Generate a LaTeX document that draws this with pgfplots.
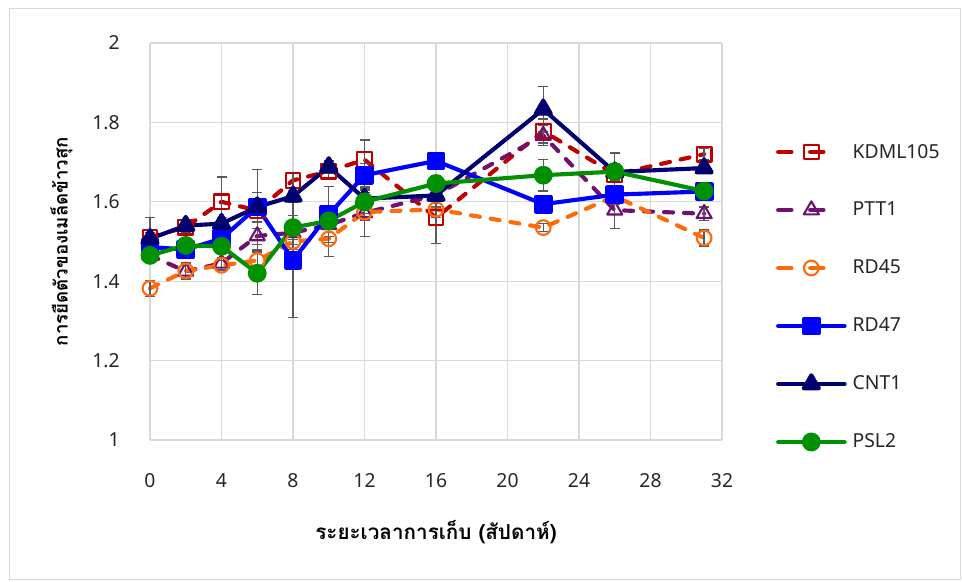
\documentclass[border=0pt]{standalone}
\usepackage{fontspec}
\setmainfont{Noto Sans}
\newfontfamily\thaifont[Script=Thai]{Loma}
\usepackage{pgfplots}
\usepackage{pgfplotstable}
\pgfplotsset{compat=1.18}
\definecolor{cKD}{HTML}{C00000}
\definecolor{cPT}{HTML}{70106F}
\definecolor{cRa}{HTML}{FF6A0A}
\definecolor{cRb}{HTML}{0000FF}
\definecolor{cCN}{HTML}{00006E}
\definecolor{cPS}{HTML}{009000}
\definecolor{errc}{HTML}{5A5A5A}
\definecolor{gridc}{HTML}{D9D9D9}

\pgfplotstableread{
x y e
0 1.511 0.050
2 1.536 0.015
4 1.600 0.062
6 1.578 0.045
8 1.654 0.020
10 1.677 0.020
12 1.706 0.050
16 1.560 0.065
22 1.778 0.030
26 1.669 0.054
31 1.720 0.015
}\kdml
\pgfplotstableread{
x y e
0 1.465 0.015
2 1.425 0.020
4 1.445 0.015
6 1.514 0.035
8 1.522 0.030
10 1.542 0.030
12 1.572 0.060
16 1.617 0.030
22 1.767 0.025
26 1.579 0.046
31 1.570 0.017
}\ptt
\pgfplotstableread{
x y e
0 1.382 0.020
2 1.426 0.020
4 1.440 0.012
6 1.452 0.020
8 1.500 0.020
10 1.507 0.045
12 1.574 0.020
16 1.581 0.020
22 1.535 0.010
26 1.614 0.020
31 1.509 0.020
}\rdff
\pgfplotstableread{
x y e
0 1.486 0.015
2 1.480 0.015
4 1.507 0.020
6 1.587 0.095
8 1.453 0.145
10 1.568 0.070
12 1.667 0.030
16 1.703 0.010
22 1.594 0.010
26 1.618 0.020
31 1.626 0.010
}\rdfs
\pgfplotstableread{
x y e
0 1.507 0.015
2 1.540 0.010
4 1.545 0.015
6 1.587 0.020
8 1.614 0.015
10 1.688 0.015
12 1.608 0.015
16 1.616 0.020
22 1.833 0.057
26 1.675 0.020
31 1.685 0.010
}\cnt
\pgfplotstableread{
x y e
0 1.465 0.015
2 1.490 0.015
4 1.488 0.015
6 1.420 0.053
8 1.535 0.030
10 1.552 0.030
12 1.600 0.030
16 1.646 0.020
22 1.667 0.040
26 1.676 0.015
31 1.627 0.010
}\psl

\pgfplotsset{
  eb/.style={error bars/.cd, y dir=both, y explicit,
    error bar style={errc, line width=1.1pt, solid},
    error mark options={errc, rotate=90, mark size=3.75pt, line width=1.1pt, solid}},
  dashleg/.style={legend image code/.code={
    \pgfpathrectangle{\pgfpoint{0pt}{-21.75pt}}{\pgfpoint{53pt}{43.5pt}}\pgfusepath{use as bounding box}
    \draw[##1, mark repeat=2, mark phase=2, dash pattern=on 10pt off 14pt on 10pt off 40pt]
      plot coordinates {(1.6pt,0pt) (26.5pt,0pt) (53pt,0pt)};}},
  solidleg/.style={legend image code/.code={
    \pgfpathrectangle{\pgfpoint{0pt}{-21.75pt}}{\pgfpoint{53pt}{43.5pt}}\pgfusepath{use as bounding box}
    \draw[##1, mark repeat=2, mark phase=2]
      plot coordinates {(1.6pt,0pt) (26.5pt,0pt) (51.4pt,0pt)};}},
  dline/.style={line width=3.1pt, dash pattern=on 6.75pt off 8.25pt, line cap=round, line join=round},
  sline/.style={line width=3.1pt, line cap=round, line join=round},
}

\begin{document}
\begin{tikzpicture}
\useasboundingbox (0,0) rectangle (721.5pt,435.75pt);
\draw[gridc, line width=0.75pt] (6.75pt,1.5pt) rectangle (720.4pt,429pt);
\begin{axis}[
  at={(112.5pt,105.75pt)}, anchor=south west,
  scale only axis, width=429pt, height=297.75pt,
  xmin=0, xmax=32, ymin=1, ymax=2,
  xtick={0,4,...,32}, ytick={1,1.2,1.4,1.6,1.8,2},
  grid=major, grid style={gridc, line width=1pt},
  axis line style={draw=none}, major tick length=0pt,
  clip=false,
  /pgf/number format/assume math mode=true,
  ticklabel style={font=\fontsize{14.5}{16}\selectfont, text=black!85},
  yticklabel style={inner sep=0pt, xshift=-22.5pt},
  xticklabel style={inner sep=0pt, yshift=-25pt},
  xlabel={\thaifont\bfseries ระยะเวลาการเก็บ (สัปดาห์)},
  ylabel={\thaifont\bfseries การยืดตัวของเมล็ดข้าวสุก},
  xlabel style={font=\fontsize{15.5}{17}\selectfont, at={(axis description cs:0.5,-0.2317)}, anchor=center},
  ylabel style={font=\fontsize{14}{16}\selectfont, at={(axis description cs:-0.155,0.5)}, anchor=center},
  legend style={draw=none, fill=none, inner sep=0pt, outer sep=0pt,
    at={(axis description cs:1.0944,0.7985)}, anchor=north west,
    row sep=0pt, column sep=4.5pt,
    font=\fontsize{14.5}{16}\selectfont, text=black!85, nodes={inner sep=0pt}},
  legend cell align=left,
]
\addplot[cKD, dline, dashleg, mark=square, mark size=5.5pt, mark options={solid, line width=1.6pt}, eb]
  table[x=x, y=y, y error=e]{\kdml};
\addlegendentry{KDML105}
\addplot[cPT, dline, dashleg, mark=triangle, mark size=6.5pt, mark options={solid, line width=1.6pt}, eb]
  table[x=x, y=y, y error=e]{\ptt};
\addlegendentry{PTT1}
\addplot[cRa, dline, dashleg, mark=o, mark size=5.5pt, mark options={solid, line width=1.6pt}, eb]
  table[x=x, y=y, y error=e]{\rdff};
\addlegendentry{RD45}
\addplot[cRb, sline, solidleg, mark=square*, mark size=5.5pt, mark options={solid}, eb]
  table[x=x, y=y, y error=e]{\rdfs};
\addlegendentry{RD47}
\addplot[cCN, sline, solidleg, mark=triangle*, mark size=6.5pt, mark options={solid}, eb]
  table[x=x, y=y, y error=e]{\cnt};
\addlegendentry{CNT1}
\addplot[cPS, sline, solidleg, mark=*, mark size=5.5pt, mark options={solid}, eb]
  table[x=x, y=y, y error=e]{\psl};
\addlegendentry{PSL2}
\end{axis}
\end{tikzpicture}
\end{document}
